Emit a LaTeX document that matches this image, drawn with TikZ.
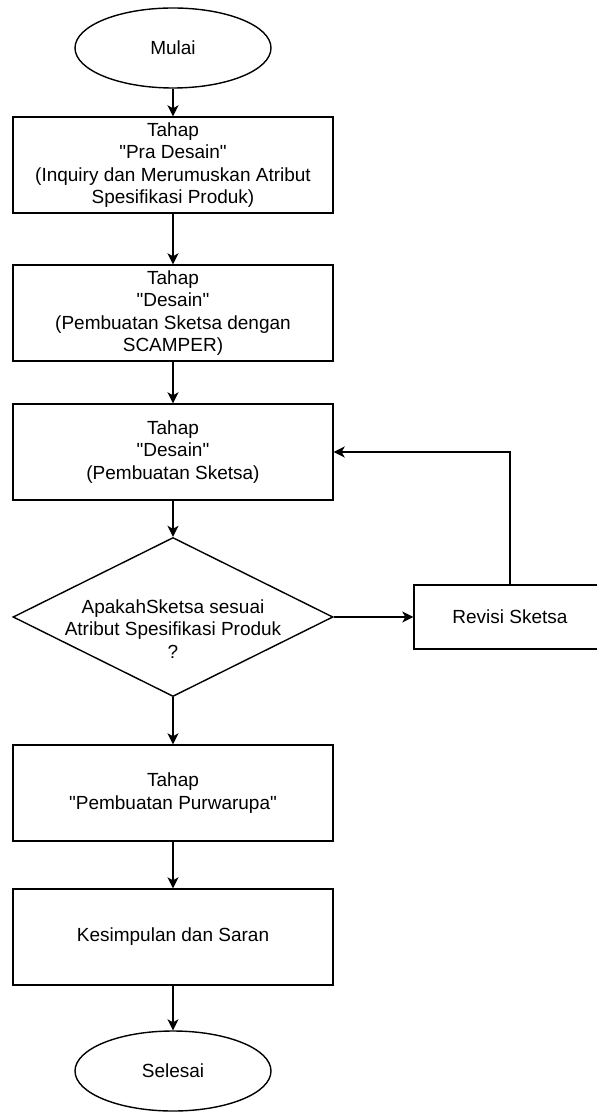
\documentclass[tikz,border=0pt]{standalone}
\usepackage{fontspec}
\setmainfont{Liberation Sans}[Ligatures=TeXOff]
\usetikzlibrary{shapes.geometric,arrows.meta}
\begin{document}
\begin{tikzpicture}[x=0.5pt,y=-0.5pt,
  every node/.style={font=\fontsize{9.5}{11.25}\selectfont, align=center},
  proc/.style={draw, rectangle, line width=0.7pt, minimum width=160pt, minimum height=48pt, inner sep=2pt},
  term/.style={draw, ellipse, line width=0.7pt, minimum width=98pt, minimum height=40pt},
  dec/.style={draw, diamond, line width=0.7pt, minimum width=160pt, minimum height=79.5pt, inner sep=0pt},
  arr/.style={line width=0.7pt, -{Stealth[length=5.5pt,width=5.5pt,inset=1.5pt]}}]
\useasboundingbox (0,0) rectangle (597,1112);
\node[term] (mulai) at (173,48){Mulai};
\node[proc] (tahap1) at (173,165){Tahap\\"Pra Desain"\\(Inquiry dan Merumuskan Atribut\\Spesifikasi Produk)};
\draw[arr](mulai) -- (tahap1);
\node[proc] (tahap2) at (173,313){Tahap\\"Desain"\\(Pembuatan Sketsa dengan\\SCAMPER)};
\draw[arr](tahap1) -- (tahap2);
\node[proc] (tahap3) at (173,452){Tahap\\"Desain"\\(Pembuatan Sketsa)};
\draw[arr](tahap2) -- (tahap3);
\node[dec, label={[yshift=-6pt]center:ApakahSketsa sesuai\\Atribut Spesifikasi Produk\\?}] (cek) at (173,617){};
\draw[arr](tahap3) -- (cek);
\node[proc, minimum width=96pt, minimum height=32pt] (revisi) at (510,617){Revisi Sketsa};
\draw[arr](cek) -- (revisi);
\draw[arr](revisi) |- (tahap3);
\node[proc] (tahap4) at (173,793){Tahap\\"Pembuatan Purwarupa"};
\draw[arr](cek) -- (tahap4);
\node[proc] (simpul) at (173,937){Kesimpulan dan Saran};
\draw[arr](tahap4) -- (simpul);
\node[term] (selesai) at (173,1071){Selesai};
\draw[arr](simpul) -- (selesai);
\end{tikzpicture}
\end{document}
